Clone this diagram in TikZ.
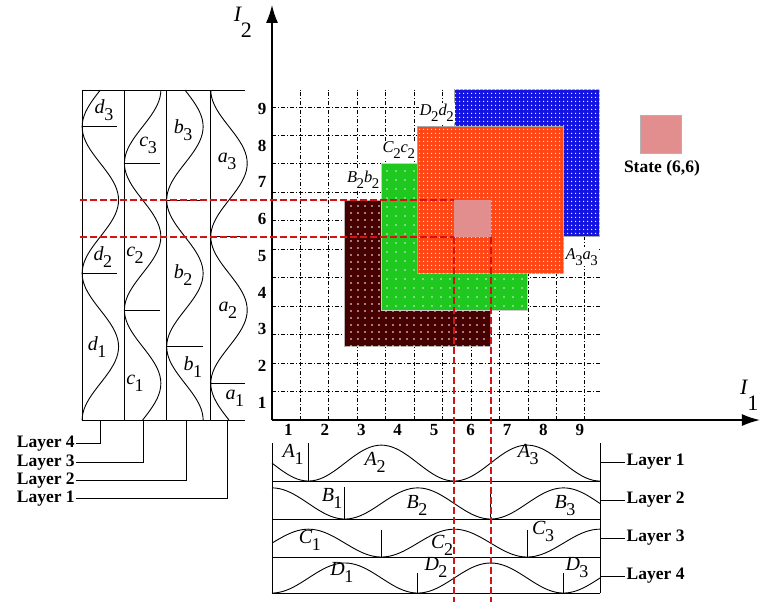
\documentclass[tikz,border=0pt]{standalone}
\usepackage{fontspec}
\setmainfont{Liberation Serif}
\usetikzlibrary{arrows.meta,patterns.meta}

\definecolor{maroonc}{RGB}{70,0,0}
\definecolor{greenc}{RGB}{30,200,30}
\definecolor{orangec}{RGB}{255,70,20}
\definecolor{bluec}{RGB}{20,20,225}
\definecolor{pinkc}{RGB}{226,142,142}
\definecolor{redline}{RGB}{210,20,20}

% fuzzy set label, letter with subscript
\newcommand{\fz}[2]{\textit{#1}\kern-0.5pt\raisebox{-0.35em}{\scalebox{0.9}{#2}}}
% axis label
\newcommand{\axl}[2]{\textit{#1}\kern-1pt\raisebox{-0.72em}{#2}}

\tikzset{
  fset/.style={font=\fontsize{20}{20}\selectfont, inner sep=0pt},
  cell/.style={font=\fontsize{16.5}{16.5}\selectfont, fill=white, inner sep=1pt},
  num/.style={font=\bfseries\fontsize{17}{17}\selectfont, inner sep=0pt},
  layer/.style={font=\bfseries\fontsize{17.5}{17.5}\selectfont, inner sep=1pt},
  axlab/.style={font=\fontsize{22}{22}\selectfont, inner sep=0pt},
  griddash/.style={line width=1pt, dash pattern=on 4pt off 2pt on 1pt off 2pt},
  reddash/.style={redline, line width=2.2pt, dash pattern=on 7pt off 3pt},
  mf/.style={line width=0.9pt},
  axis/.style={line width=1.6pt, -{Latex[length=18pt,width=12pt]}},
  maroonbox/.style={fill=maroonc, draw=gray!60, line width=1pt,
    postaction={pattern={Dots[distance=6.5pt,radius=0.9pt]}, pattern color=white}},
  greenbox/.style={fill=greenc, draw=gray!40, line width=1pt,
    postaction={pattern={Dots[distance=9pt,radius=0.9pt]}, pattern color=white!80!gray}},
  bluebox/.style={fill=bluec, draw=gray!70, line width=1pt,
    postaction={pattern={Dots[distance=4pt,radius=0.8pt]}, pattern color=white}},
  orangebox/.style={fill=orangec, draw=gray!70, line width=1pt,
    postaction={pattern={Dots[distance=4pt,radius=0.8pt]}, pattern color=yellow!60}},
}

\begin{document}
\begin{tikzpicture}[x=36.44pt,y=36.67pt]
  \useasboundingbox (-7.464,-5.236) rectangle (13.419,11.454);
  % state grid
  \draw[griddash] (0,0) grid (9,9);
  % rules B2b2, C2c2, A3a3, D2d2
  \path[maroonbox] (2,2) rectangle (6,6);
  \path[greenbox] (3,3) rectangle (7,7);
  \path[bluebox] (5,5) rectangle (9,9);
  \path[orangebox] (4,4) rectangle (8,8);
  \path[fill=pinkc] (5,5) rectangle (6,6);
  \node[cell] (rb) at (2.5,6.55) {\fz{B}{2}\fz{b}{2}};
  \node[cell] (rc) at (3.48,7.36) {\fz{C}{2}\fz{c}{2}};
  \node[cell] (rd) at (4.52,8.37) {\fz{D}{2}\fz{d}{2}};
  \node[cell] (ra) at (8.5,4.45) {\fz{A}{3}\fz{a}{3}};

  % axes
  \coordinate (o) at (0,0);
  \draw[axis] (o) -- (0,11.32);
  \draw[axis] (o) -- (13.39,0);
  \node[axlab] (i2) at (-0.8,10.85) {\axl{I}{2}};
  \node[axlab, anchor=north west] (i1) at (12.84,1.1) {\axl{I}{1}};
  \foreach \i in {1,...,9} {
    \node[num] (ny\i) at (-0.27,\i-0.52) {\i};
    \node[num] (nx\i) at (\i-0.55,-0.27) {\i};
  }

  % left panel, layers for I2
  \draw[mf] (-5.21,0) -- (-0.74,0);
  \draw[mf] (-5.21,9) -- (-0.74,9);
  \foreach \xx in {-5.21,-4.05,-2.89,-1.68} \draw[mf] (\xx,0) -- (\xx,9);
  \draw[mf] plot[domain=0:9, samples=91, smooth, variable=\t] ({-5.21+0.5*(1-cos(90*\t))},\t);
  \draw[mf] plot[domain=0:9, samples=91, smooth, variable=\t] ({-4.05+0.5*(1-cos(90*(\t-3)))},\t);
  \draw[mf] plot[domain=0:9, samples=91, smooth, variable=\t] ({-2.89+0.5*(1-cos(90*(\t-2)))},\t);
  \draw[mf] plot[domain=0:9, samples=91, smooth, variable=\t] ({-1.68+0.5*(1-cos(90*(\t-1)))},\t);
  \draw[mf] (-5.21,8) -- +(0.96,0);
  \draw[mf] (-5.21,4) -- +(0.96,0);
  \draw[mf] (-4.05,7) -- +(0.99,0);
  \draw[mf] (-4.05,3) -- +(0.99,0);
  \draw[mf] (-2.89,6) -- +(1,0);
  \draw[mf] (-2.89,2) -- +(1,0);
  \draw[mf] (-1.68,5) -- (-0.74,5);
  \draw[mf] (-1.68,1) -- (-0.74,1);
  \foreach \l/\k/\px/\py in {d/3/-4.61/8.45, d/2/-4.64/4.45, d/1/-4.80/2.0,
      c/3/-3.40/7.50, c/2/-3.76/4.50, c/1/-3.76/1.0,
      b/3/-2.44/7.91, b/2/-2.44/3.95, b/1/-2.17/1.45,
      a/3/-1.23/7.04, a/2/-1.21/3.0, a/1/-1.02/0.60}
    \node[fset] (l\l\k) at (\px,\py) {\fz{\l}{\k}};

  % bottom panel, layers for I1
  \draw[mf] (0,-0.63) -- (0,-4.718);
  \draw[mf] (9,-0.63) -- (9,-4.718);
  \foreach \yy in {-1.664,-2.70,-3.736,-4.718} \draw[mf] (0,\yy) -- (9,\yy);
  \draw[mf] plot[domain=0:9, samples=91, smooth, variable=\t] (\t,{-1.664+0.49*(1-cos(90*(\t-1)))});
  \draw[mf] plot[domain=0:9, samples=91, smooth, variable=\t] (\t,{-2.70+0.425*(1-cos(90*(\t-2)))});
  \draw[mf] plot[domain=0:9, samples=91, smooth, variable=\t] (\t,{-3.736+0.38*(1-cos(90*(\t-3)))});
  \draw[mf] plot[domain=0:9, samples=91, smooth, variable=\t] (\t,{-4.718+0.41*(1-cos(90*\t))});
  \draw[mf] (1,-1.664) -- (1,-0.63);
  \draw[mf] (2,-2.70) -- (2,-1.83);
  \draw[mf] (6,-2.70) -- (6,-1.83);
  \draw[mf] (3,-3.736) -- (3,-3.0);
  \draw[mf] (7,-3.736) -- (7,-3.0);
  \draw[mf] (4,-4.718) -- (4,-4.17);
  \draw[mf] (8,-4.718) -- (8,-4.17);
  \foreach \l/\k/\px/\py in {A/1/0.58/-0.95, A/2/2.83/-1.15, A/3/7.03/-0.95,
      B/1/1.65/-2.13, B/2/3.98/-2.32, B/3/8.04/-2.32,
      C/1/1.04/-3.27, C/2/4.67/-3.41, C/3/7.44/-3.05,
      D/1/1.92/-4.15, D/2/4.50/-4.01, D/3/8.37/-4.01}
    \node[fset] (u\l\k) at (\px,\py) {\fz{\l}{\k}};

  % state (6,6)
  \draw[reddash] (-5.27,6) -- (5,6);
  \draw[reddash] (-5.27,5) -- (5,5);
  \draw[reddash] (5,5) -- (5,-4.95);
  \draw[reddash] (6,5) -- (6,-4.95);
  \node[draw=gray!60, fill=pinkc, minimum width=41pt, minimum height=38pt, inner sep=0pt] (legsq) at (10.66,7.80) {};
  \node[layer] (legtxt) at (10.70,6.87) {State (6,6)};

  % layer names
  \node[layer, anchor=east] (ll4) at (-5.38,-0.63) {Layer 4};
  \node[layer, anchor=east] (ll3) at (-5.38,-1.16) {Layer 3};
  \node[layer, anchor=east] (ll2) at (-5.38,-1.66) {Layer 2};
  \node[layer, anchor=east] (ll1) at (-5.38,-2.15) {Layer 1};
  \draw[mf] (ll4.east) -| (-4.72,0);
  \draw[mf] (ll3.east) -| (-3.54,0);
  \draw[mf] (ll2.east) -| (-2.36,0);
  \draw[mf] (ll1.east) -| (-1.21,0);
  \foreach \k/\yy in {1/-1.145, 2/-2.18, 3/-3.218, 4/-4.254} {
    \node[layer, anchor=west] (rl\k) at (9.70,\yy) {Layer \k};
    \coordinate (re\k) at (9,\yy);
    \draw[mf] (re\k) -- (rl\k.west);
  }
\end{tikzpicture}
\end{document}
